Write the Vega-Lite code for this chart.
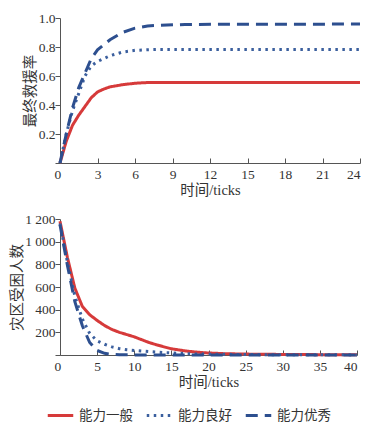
{
  "$schema": "https://vega.github.io/schema/vega-lite/v6.json",
  "background": "white",
  "padding": {"left": 9, "top": 11, "right": 5, "bottom": 0},
  "datasets": {
    "rate": [
      {"t": 0, "v": 0, "s": "能力一般"}, {"t": 0.5, "v": 0.15, "s": "能力一般"}, {"t": 1, "v": 0.26, "s": "能力一般"}, {"t": 1.5, "v": 0.33, "s": "能力一般"}, {"t": 2, "v": 0.39, "s": "能力一般"}, {"t": 2.5, "v": 0.45, "s": "能力一般"}, {"t": 3, "v": 0.49, "s": "能力一般"}, {"t": 3.5, "v": 0.51, "s": "能力一般"}, {"t": 4, "v": 0.525, "s": "能力一般"}, {"t": 5, "v": 0.54, "s": "能力一般"}, {"t": 6, "v": 0.55, "s": "能力一般"}, {"t": 7, "v": 0.555, "s": "能力一般"}, {"t": 8, "v": 0.556, "s": "能力一般"}, {"t": 12, "v": 0.556, "s": "能力一般"}, {"t": 18, "v": 0.556, "s": "能力一般"}, {"t": 24, "v": 0.556, "s": "能力一般"},
      {"t": 0, "v": 0, "s": "能力良好"}, {"t": 0.5, "v": 0.2, "s": "能力良好"}, {"t": 1, "v": 0.36, "s": "能力良好"}, {"t": 1.5, "v": 0.48, "s": "能力良好"}, {"t": 2, "v": 0.6, "s": "能力良好"}, {"t": 2.5, "v": 0.67, "s": "能力良好"}, {"t": 3, "v": 0.7, "s": "能力良好"}, {"t": 3.5, "v": 0.72, "s": "能力良好"}, {"t": 4, "v": 0.74, "s": "能力良好"}, {"t": 5, "v": 0.765, "s": "能力良好"}, {"t": 6, "v": 0.777, "s": "能力良好"}, {"t": 7, "v": 0.781, "s": "能力良好"}, {"t": 8, "v": 0.783, "s": "能力良好"}, {"t": 12, "v": 0.783, "s": "能力良好"}, {"t": 18, "v": 0.783, "s": "能力良好"}, {"t": 24, "v": 0.783, "s": "能力良好"},
      {"t": 0, "v": 0, "s": "能力优秀"}, {"t": 0.5, "v": 0.2, "s": "能力优秀"}, {"t": 1, "v": 0.38, "s": "能力优秀"}, {"t": 1.5, "v": 0.52, "s": "能力优秀"}, {"t": 2, "v": 0.62, "s": "能力优秀"}, {"t": 2.5, "v": 0.72, "s": "能力优秀"}, {"t": 3, "v": 0.78, "s": "能力优秀"}, {"t": 4, "v": 0.85, "s": "能力优秀"}, {"t": 5, "v": 0.9, "s": "能力优秀"}, {"t": 6, "v": 0.93, "s": "能力优秀"}, {"t": 7, "v": 0.945, "s": "能力优秀"}, {"t": 8, "v": 0.95, "s": "能力优秀"}, {"t": 10, "v": 0.955, "s": "能力优秀"}, {"t": 14, "v": 0.957, "s": "能力优秀"}, {"t": 24, "v": 0.958, "s": "能力优秀"}
    ],
    "trapped": [
      {"t": 0, "v": 1180, "s": "能力一般"}, {"t": 1, "v": 860, "s": "能力一般"}, {"t": 2, "v": 590, "s": "能力一般"}, {"t": 3, "v": 430, "s": "能力一般"}, {"t": 4, "v": 355, "s": "能力一般"}, {"t": 5, "v": 305, "s": "能力一般"}, {"t": 6, "v": 260, "s": "能力一般"}, {"t": 7, "v": 225, "s": "能力一般"}, {"t": 8, "v": 200, "s": "能力一般"}, {"t": 9, "v": 180, "s": "能力一般"}, {"t": 10, "v": 160, "s": "能力一般"}, {"t": 11, "v": 135, "s": "能力一般"}, {"t": 12, "v": 110, "s": "能力一般"}, {"t": 13, "v": 90, "s": "能力一般"}, {"t": 14, "v": 72, "s": "能力一般"}, {"t": 15, "v": 55, "s": "能力一般"}, {"t": 16, "v": 45, "s": "能力一般"}, {"t": 17, "v": 35, "s": "能力一般"}, {"t": 18, "v": 28, "s": "能力一般"}, {"t": 19, "v": 22, "s": "能力一般"}, {"t": 20, "v": 18, "s": "能力一般"}, {"t": 22, "v": 12, "s": "能力一般"}, {"t": 25, "v": 8, "s": "能力一般"}, {"t": 30, "v": 5, "s": "能力一般"}, {"t": 35, "v": 3, "s": "能力一般"}, {"t": 40, "v": 2, "s": "能力一般"},
      {"t": 0, "v": 1160, "s": "能力良好"}, {"t": 1, "v": 820, "s": "能力良好"}, {"t": 2, "v": 520, "s": "能力良好"}, {"t": 3, "v": 320, "s": "能力良好"}, {"t": 4, "v": 190, "s": "能力良好"}, {"t": 5, "v": 125, "s": "能力良好"}, {"t": 6, "v": 95, "s": "能力良好"}, {"t": 7, "v": 72, "s": "能力良好"}, {"t": 8, "v": 56, "s": "能力良好"}, {"t": 9, "v": 46, "s": "能力良好"}, {"t": 10, "v": 40, "s": "能力良好"}, {"t": 12, "v": 30, "s": "能力良好"}, {"t": 14, "v": 22, "s": "能力良好"}, {"t": 16, "v": 15, "s": "能力良好"}, {"t": 18, "v": 10, "s": "能力良好"}, {"t": 20, "v": 8, "s": "能力良好"}, {"t": 25, "v": 4, "s": "能力良好"}, {"t": 30, "v": 2, "s": "能力良好"}, {"t": 40, "v": 1, "s": "能力良好"},
      {"t": 0, "v": 1150, "s": "能力优秀"}, {"t": 1, "v": 790, "s": "能力优秀"}, {"t": 2, "v": 470, "s": "能力优秀"}, {"t": 3, "v": 260, "s": "能力优秀"}, {"t": 4, "v": 110, "s": "能力优秀"}, {"t": 5, "v": 40, "s": "能力优秀"}, {"t": 6, "v": 15, "s": "能力优秀"}, {"t": 7, "v": 5, "s": "能力优秀"}, {"t": 8, "v": 2, "s": "能力优秀"}, {"t": 10, "v": 1, "s": "能力优秀"}, {"t": 20, "v": 0, "s": "能力优秀"}, {"t": 40, "v": 0, "s": "能力优秀"}
    ]
  },
  "config": {
    "view": {"stroke": null},
    "font": "Liberation Serif, Noto Sans CJK SC",
    "axis": {
      "grid": false,
      "domainColor": "#555555",
      "tickColor": "#555555",
      "labelFont": "Liberation Serif",
      "labelFontSize": 13.5,
      "labelColor": "#333333",
      "titleFont": "Liberation Serif, Noto Sans CJK SC",
      "titleFontSize": 14.5,
      "titleFontWeight": "normal",
      "titleColor": "#333333"
    },
    "legend": {
      "labelFont": "Noto Sans CJK SC",
      "labelFontSize": 13.5,
      "labelColor": "#333333",
      "labelOffset": 4,
      "title": null,
      "orient": "none",
      "legendX": -14,
      "legendY": 383,
      "direction": "horizontal",
      "symbolType": "stroke",
      "symbolStrokeWidth": 3,
      "symbolSize": 650,
      "columnPadding": 7
    }
  },
  "spacing": 15,
  "vconcat": [
    {
      "width": 300,
      "height": 145,
      "data": {"name": "rate"},
      "mark": {"type": "line", "strokeWidth": 3},
      "encoding": {
        "x": {"field": "t", "type": "quantitative", "scale": {"domain": [0, 24], "nice": false},
              "axis": {"title": "时间/ticks", "values": [0, 3, 6, 9, 12, 15, 18, 21, 24], "tickSize": -5, "labelPadding": 9, "titlePadding": 3,
                       "labelOffset": {"condition": {"test": "datum.value == 0", "value": -6}, "value": 0}}},
        "y": {"field": "v", "type": "quantitative", "scale": {"domain": [0, 1], "nice": false},
              "axis": {"title": "最终救援率", "values": [0, 0.2, 0.4, 0.6, 0.8, 1.0], "labelExpr": "datum.value == 0 ? '' : format(datum.value, '.1f')", "tickSize": 5, "labelPadding": 0, "titlePadding": 1}},
        "color": {"field": "s", "type": "nominal",
                  "scale": {"domain": ["能力一般", "能力良好", "能力优秀"], "range": ["#d63a3a", "#3b5f9e", "#2d4f8f"]}},
        "strokeDash": {"field": "s", "type": "nominal",
                  "scale": {"domain": ["能力一般", "能力良好", "能力优秀"], "range": [[1, 0], [2.5, 4.5], [12, 7]]}}
      }
    },
    {
      "width": 297,
      "height": 136,
      "data": {"name": "trapped"},
      "mark": {"type": "line", "strokeWidth": 3},
      "encoding": {
        "x": {"field": "t", "type": "quantitative", "scale": {"domain": [0, 40], "nice": false},
              "axis": {"title": "时间/ticks", "values": [0, 5, 10, 15, 20, 25, 30, 35, 40], "tickSize": -5, "labelPadding": 9, "titlePadding": 3,
                       "labelOffset": {"condition": {"test": "datum.value == 0", "value": -6}, "value": 0}}},
        "y": {"field": "v", "type": "quantitative", "scale": {"domain": [0, 1200], "nice": false},
              "axis": {"title": "灾区受困人数", "values": [0, 200, 400, 600, 800, 1000, 1200], "labelExpr": "datum.value == 0 ? '' : replace(format(datum.value, ','), ',', ' ')", "tickSize": 5, "labelPadding": 0, "titlePadding": 0}},
        "color": {"field": "s", "type": "nominal",
                  "scale": {"domain": ["能力一般", "能力良好", "能力优秀"], "range": ["#d63a3a", "#3b5f9e", "#2d4f8f"]}},
        "strokeDash": {"field": "s", "type": "nominal",
                  "scale": {"domain": ["能力一般", "能力良好", "能力优秀"], "range": [[1, 0], [2.5, 4.5], [12, 7]]}}
      }
    }
  ]
}
